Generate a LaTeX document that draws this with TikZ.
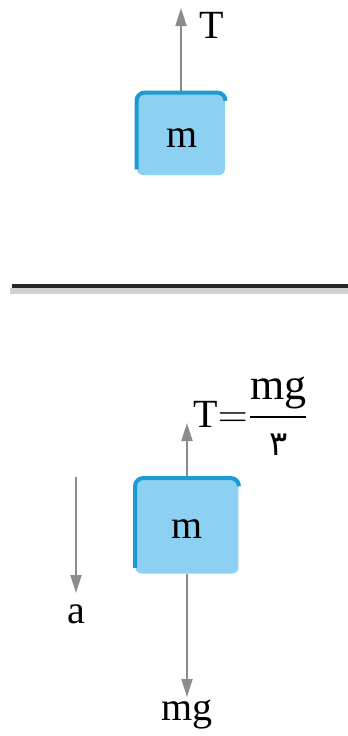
\documentclass[tikz,border=0pt]{standalone}
\usepackage{amsmath}
\usepackage{fontspec}
\setmainfont{Liberation Serif}
\newfontfamily\arabicfont[Script=Arabic]{DejaVu Sans}
\usepackage{tikz}
\usetikzlibrary{arrows.meta, positioning}

\definecolor{blockfill}{HTML}{8DD1F2}
\definecolor{blockedge}{HTML}{1B9AD6}
\definecolor{forcegray}{HTML}{8C8C8C}

\begin{document}
\begin{tikzpicture}[
      x=0.5pt, y=-0.5pt,
      font=\fontsize{20}{23}\selectfont,
      block/.style={fill=blockfill, rounded corners=3pt, inner sep=0pt},
      edge/.style={draw=blockedge, line width=2pt, rounded corners=4pt},
      force/.style={draw=forcegray, line width=1pt,
        -{Triangle[length=9pt, width=5.5pt]}},
      lbl/.style={inner sep=0pt, anchor=base}
    ]
    \useasboundingbox (0,0) rectangle (348,736);

    % upper picture: block hanging on the string
    \node[block, minimum width=44pt, minimum height=41pt] (blkA) at (181,134) {};
    \node[lbl] (mA) at (182,147) {m};
    \coordinate (tipTA) at (181,8);
    \draw[force] (blkA.north) -- (tipTA);
    \node[lbl, anchor=base west] (labTA) at (199,38) {T};

    % separating line
    \draw[line width=3pt, black!18] (10,291) -- (348,291);
    \draw[line width=1.6pt, black!85] (12,286) -- (348,286);

    % lower picture: block accelerating downwards
    \node[block, minimum width=51.5pt, minimum height=47.5pt] (blkB) at (187,526) {};
    \node[lbl] (mB) at (187,538) {m};
    \coordinate (tipTB) at (187,423);
    \coordinate (tipW) at (187,697);
    \draw[force] (blkB.north) -- (tipTB);
    \draw[force] (blkB.south) -- (tipW);
    \node[inner sep=0pt, anchor=west] (labTB) at (193,416)
      {T$=$$\displaystyle\frac{\mbox{\fontsize{22}{24}\selectfont mg}}
        {\mbox{\fontsize{17}{20}\selectfont\arabicfont ۳}}$};
    \node[lbl] (labW) at (187,720) {mg};

    \coordinate (accA) at (76,477);
    \coordinate (accB) at (76,593);
    \draw[force] (accA) -- (accB);
    \node[lbl] (labA) at (76,623) {a};

    % dark rim on the top and left of both blocks
    \foreach \b in {blkA, blkB} {
      \draw[edge] ([yshift=3pt]\b.south west) -- (\b.north west)
        -- (\b.north east) -- ([yshift=-3.5pt]\b.north east);
    }
  \end{tikzpicture}
\end{document}
